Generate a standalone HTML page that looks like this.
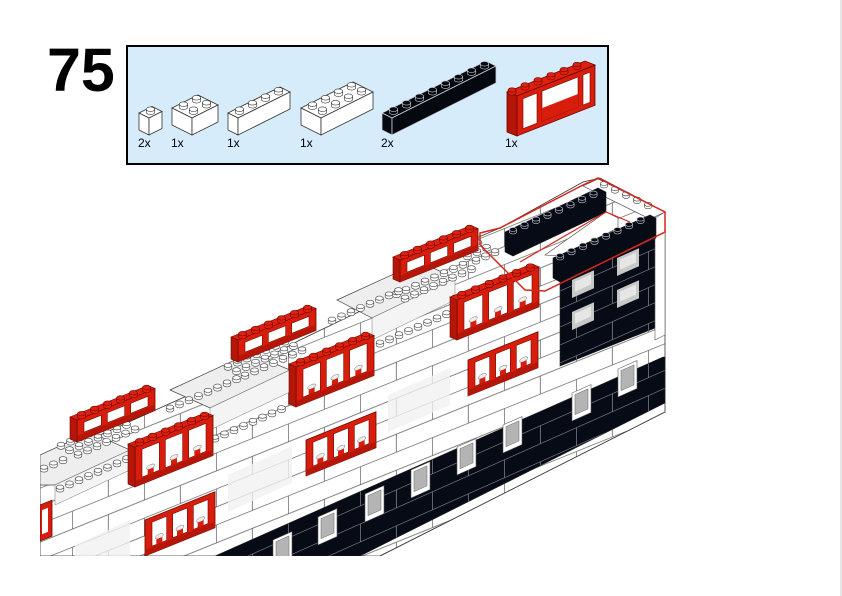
<!DOCTYPE html>
<html><head><meta charset="utf-8"><style>
html,body{margin:0;padding:0;background:#fff;}
body{width:842px;height:596px;overflow:hidden;position:relative;font-family:"Liberation Sans",sans-serif;}
#num{position:absolute;left:47px;top:40px;font-size:61px;font-weight:bold;line-height:1;}
.lbl{position:absolute;top:136px;font-size:12px;}
</style></head><body>
<svg id="s" width="842" height="596" style="position:absolute;left:0;top:0">
<defs>
<pattern id="brk" patternUnits="userSpaceOnUse" width="72" height="36" patternTransform="skewY(-22)">
<rect width="72" height="36" fill="#fff"/>
<path d="M0 0.3H72M0 18.3H72M0.3 0V18M36.3 18V36" stroke="#666" stroke-width="0.8" fill="none"/>
</pattern>
<pattern id="blk" patternUnits="userSpaceOnUse" width="72" height="36" patternTransform="skewY(-24)">
<rect width="72" height="36" fill="#060b16"/>
<path d="M0 0.3H72M0 18.3H72M0.3 0V18M36.3 18V36" stroke="#8a8f99" stroke-width="0.7" fill="none"/>
</pattern>
<clipPath id="cl"><rect x="40" y="170" width="640" height="386"/></clipPath>
</defs>
<line x1="841" y1="0" x2="841" y2="596" stroke="#ddd" stroke-width="1.5"/>
<rect x="127" y="46" width="481" height="118" fill="#d6ecfb" stroke="#000" stroke-width="2"/>
<g id="parts"></g>
<g id="model" clip-path="url(#cl)"></g>
</svg>
<div id="num">75</div>
<div class="lbl" style="left:138px">2x</div>
<div class="lbl" style="left:171px">1x</div>
<div class="lbl" style="left:227px">1x</div>
<div class="lbl" style="left:300px">1x</div>
<div class="lbl" style="left:381px">2x</div>
<div class="lbl" style="left:505px">1x</div>
<script>
const parts=document.getElementById('parts');
const model=document.getElementById('model');
function add(parent,html){parent.insertAdjacentHTML('beforeend',html);}
function P(a){return a.map(p=>p[0].toFixed(1)+','+p[1].toFixed(1)).join(' ');}
function stud(g,cx,cy,rx,ry,hh,fill,stroke){
  add(g,`<ellipse cx="${cx}" cy="${cy}" rx="${rx}" ry="${ry}" fill="${fill}" stroke="${stroke}" stroke-width="0.6"/>
  <rect x="${cx-rx}" y="${cy-hh}" width="${2*rx}" height="${hh}" fill="${fill}"/>
  <line x1="${cx-rx}" y1="${cy-hh}" x2="${cx-rx}" y2="${cy}" stroke="${stroke}" stroke-width="0.6"/>
  <line x1="${cx+rx}" y1="${cy-hh}" x2="${cx+rx}" y2="${cy}" stroke="${stroke}" stroke-width="0.6"/>
  <ellipse cx="${cx}" cy="${cy-hh}" rx="${rx}" ry="${ry}" fill="${fill}" stroke="${stroke}" stroke-width="0.6"/>`);
}
function brick(g,px,py,L,W,h,fill,stroke){
  const a=[13,-6.5],b=[10,5];
  const pt=(i,j,d)=>[px+i*a[0]+j*b[0],py+i*a[1]+j*b[1]+(d||0)];
  add(g,`<polygon points="${P([pt(0,0),pt(L,0),pt(L,W),pt(0,W)])}" fill="${fill}" stroke="${stroke}" stroke-width="0.8"/>`);
  add(g,`<polygon points="${P([pt(0,0),pt(0,W),pt(0,W,h),pt(0,0,h)])}" fill="${fill}" stroke="${stroke}" stroke-width="0.8"/>`);
  add(g,`<polygon points="${P([pt(0,W),pt(L,W),pt(L,W,h),pt(0,W,h)])}" fill="${fill}" stroke="${stroke}" stroke-width="0.8"/>`);
  let st=[];
  for(let i=0;i<L;i++)for(let j=0;j<W;j++)st.push(pt(i+0.5,j+0.5));
  st.sort((p,q)=>p[1]-q[1]);
  st.forEach(c=>stud(g,c[0],c[1],4.2,2.3,3,fill,stroke));
}
brick(parts,139,113,1,1,17,'#fff','#333');
brick(parts,172,108,2,2,17,'#fff','#333');
brick(parts,228,113,4,1,17,'#fff','#333');
brick(parts,301,108,4,2,17,'#fff','#333');
brick(parts,382,113,8,1,17,'#05080f','#cfd3da');
add(parts,`<polygon points="507,92 585,61 595,65 517,96" fill="#e0200f" stroke="#6a0800" stroke-width="0.8"/>
<g transform="translate(517,96) skewY(-21.5)">
<rect width="78" height="40" fill="#d91d0d" stroke="#6a0800" stroke-width="0.8"/>
<rect x="6" y="5" width="14" height="30" fill="#fff" stroke="#6a0800" stroke-width="0.6"/>
<rect x="25" y="5" width="36" height="30" fill="#fff" stroke="#6a0800" stroke-width="0.6"/>
<rect x="66" y="5" width="7" height="30" fill="#fff" stroke="#6a0800" stroke-width="0.6"/>
<rect x="25" y="22" width="36" height="13" fill="#d91d0d"/>
</g>
<polygon points="507,92 517,96 517,136 507,132" fill="#b51608" stroke="#6a0800" stroke-width="0.8"/>`);
for(let i=0;i<6;i++){stud(parts,512+i*13,93-i*5.1,4,2.2,3,'#e0200f','#6a0800');}

const T=Math.tan(22*Math.PI/180);
add(model,`<polygon points="40,462 240,372 300,340 400,292 400,270 500,228 583,182 600,178 665,212 665,412 380,556 40,556" fill="url(#brk)" stroke="#333" stroke-width="0.8"/>`);
add(model,`<polygon points="337,300 420,262 455,278 372,318" fill="#eee" stroke="#444" stroke-width="0.7"/>
<polygon points="372,318 455,278 455,300 372,340" fill="#f4f4f4" stroke="#777" stroke-width="0.5"/>
<polygon points="170,390 250,353 290,370 210,408" fill="#eee" stroke="#444" stroke-width="0.7"/>
<polygon points="210,408 290,370 290,392 210,430" fill="#f4f4f4" stroke="#777" stroke-width="0.5"/>
<polygon points="40,455 90,432 130,450 55,485 40,485" fill="#eee" stroke="#444" stroke-width="0.7"/>
<polygon points="55,485 130,450 130,470 55,505" fill="#f4f4f4" stroke="#777" stroke-width="0.5"/>
<polygon points="388,395 450,368 450,405 388,432" fill="#f1f1f1" opacity="0.8"/>
<polygon points="228,475 292,446 292,483 228,512" fill="#f1f1f1" opacity="0.8"/>
<polygon points="75,545 130,520 130,556 75,556" fill="#f1f1f1" opacity="0.8"/>`);
add(model,`<polygon points="215,556 663,357 665,357 665,403 360,556" fill="url(#blk)" stroke="#222" stroke-width="0.6"/>
<line x1="665" y1="412" x2="380" y2="556" stroke="#444" stroke-width="0.8"/>`);
[[273,540],[318,517],[365,494],[411,470],[457,447],[503,425],[572,393],[618,369]].forEach(p=>{
 add(model,`<g transform="translate(${p[0]},${p[1]}) skewY(-24)"><rect width="19" height="28" fill="#fff" stroke="#555" stroke-width="0.6"/><rect x="3" y="3" width="13" height="20" fill="#b4b4b4" stroke="#666" stroke-width="0.5"/></g>`);
});
add(model,`<polygon points="560,262 655,218 655,328 560,366" fill="url(#blk)" stroke="#222" stroke-width="0.6"/>
<polygon points="655,218 665,212 665,335 655,340" fill="#fff" stroke="#555" stroke-width="0.6"/>`);
[[572,280],[617,258],[572,312],[617,290]].forEach(p=>{
 add(model,`<g transform="translate(${p[0]},${p[1]}) skewY(-24)"><rect width="22" height="18" fill="#c8c8c8"/><rect x="3" y="3" width="16" height="10" fill="#e6e6e6"/></g>`);
});
add(model,`<polygon points="583,186 598,179 665,212 650,219" fill="#fff" stroke="#444" stroke-width="0.6"/>
<polygon points="505,232 598,188 606,192 606,212 513,256 505,252" fill="#060b16" stroke="#222" stroke-width="0.6"/>
<polygon points="545,255 606,212 618,218 618,228 560,256" fill="#fff" stroke="#444" stroke-width="0.6"/>
<polygon points="553,258 650,215 656,218 656,238 560,282 553,278" fill="#060b16" stroke="#222" stroke-width="0.6"/>`);
for(let i=0;i<8;i++){stud(model,513+i*11.5,232-i*5.2,3.6,2,2.5,'#060b16','#c9ccd2');}
for(let i=0;i<8;i++){stud(model,560+i*11.5,258-i*5.2,3.6,2,2.5,'#060b16','#c9ccd2');}
for(let i=0;i<5;i++){stud(model,604+i*11,186+i*5.2,3.6,2,2.5,'#fff','#444');}
function cluster(x0,y0,nL,nW){
  let st=[];
  for(let i=0;i<nL;i++)for(let j=0;j<nW;j++)st.push([x0+i*9.5-j*8.5,y0-i*4.2-j*4.4]);
  st.sort((p,q)=>p[1]-q[1]);
  st.forEach(c=>stud(model,c[0],c[1],3.8,2.1,2.8,'#fff','#444'));
}
cluster(476,262,3,3);
cluster(405,300,8,2);
cluster(332,322,8,1);
cluster(455,300,1,1);
cluster(380,345,8,1);
cluster(245,377,7,3);
cluster(170,410,8,1);
cluster(215,440,8,1);
cluster(78,456,7,3);
cluster(44,470,3,1);
cluster(60,490,8,1);
function win(x,y,w,h,top){
  let s=`<g transform="translate(${x},${y}) skewY(-22)">`;
  s+=`<rect width="${w}" height="${h}" fill="#d91d0d" stroke="#6a0800" stroke-width="0.8"/>`;
  const pw=(w-14-12)/3;
  for(let k=0;k<3;k++){
    const px=7+k*(pw+6);
    s+=`<rect x="${px}" y="5" width="${pw}" height="${h-12}" fill="#fff" stroke="#6a0800" stroke-width="0.6"/>`;
    if(h>30) s+=`<ellipse cx="${px+pw/2}" cy="${h-14}" rx="4" ry="2.2" fill="#eee" stroke="#777" stroke-width="0.5"/><rect x="${px+pw/2-3}" y="${h-12}" width="6" height="5" fill="#d91d0d"/>`;
  }
  s+=`<rect y="${h-6}" width="${w}" height="6" fill="#b51608"/>`;
  s+=`</g>`;
  add(model,s);
  if(top){
    add(model,`<polygon points="${x},${y} ${x+w},${y-w*T} ${x+w-7},${y-w*T-3} ${x-7},${y-3}" fill="#e0200f" stroke="#6a0800" stroke-width="0.6"/>`);
    add(model,`<polygon points="${x-7},${y-3} ${x},${y} ${x},${y+h} ${x-7},${y+h-3}" fill="#b51608" stroke="#6a0800" stroke-width="0.6"/>`);
    for(let i=0;i<6;i++){const sx=x-2+(i+0.5)*w/6;stud(model,sx,y-1.5-(sx-x)*T,4,2.2,3,'#e0200f','#6a0800');}
  }
}
win(400,260,78,22,true);
win(238,340,78,22,true);
win(77,420,78,22,true);
win(457,300,82,40,true);
win(296,367,78,40,true);
win(135,447,78,40,true);
win(468,360,70,36,false);
win(306,440,70,36,false);
win(145,520,70,36,false);
add(model,`<g transform="translate(40,505) skewY(-22)"><rect width="12" height="36" fill="#d91d0d" stroke="#6a0800" stroke-width="0.8"/><rect x="2" y="6" width="6" height="24" fill="#fff"/></g>`);
add(model,`<polyline points="480,245 480,233 500,228 583,185 598,178 665,212 665,232 545,291 525,290 480,245" fill="none" stroke="#d6261a" stroke-width="1.5"/>
<polyline points="520,262 606,212 630,222" fill="none" stroke="#d6261a" stroke-width="1.2"/>`);
</script>
</body></html>
